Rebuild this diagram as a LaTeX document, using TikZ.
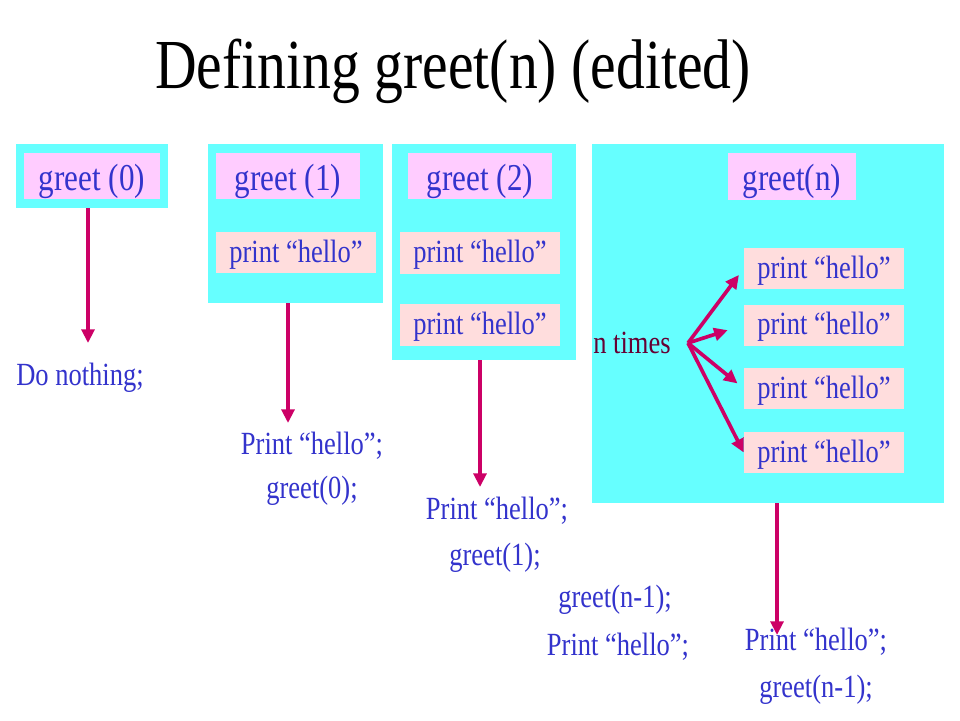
\documentclass[tikz,border=0pt]{standalone}
\usepackage{fontspec}
\setmainfont{Liberation Serif}[FakeStretch=0.82]
\usepackage{xcolor}
\usepackage{tikz}
\usetikzlibrary{arrows.meta, positioning, calc}

\definecolor{panelcyan}{HTML}{66FFFF}
\definecolor{headpink}{HTML}{FFCCFF}
\definecolor{printrose}{HTML}{FFDDDD}
\definecolor{textblue}{HTML}{3333CC}
\definecolor{timesred}{HTML}{660033}
\definecolor{arrowred}{HTML}{CC0066}

\begin{document}
\begin{tikzpicture}[
    % Node styles
    panel/.style={rectangle, fill=panelcyan, inner sep=0pt},
    headbox/.style={rectangle, fill=headpink, inner sep=0pt, minimum width=3.6cm, minimum height=1.15cm, text height=25.6pt, text depth=5.4pt, text=textblue, font=\fontsize{27}{30}\selectfont},
    printbox/.style={rectangle, fill=printrose, inner sep=0pt, minimum width=4cm, minimum height=1.025cm, text height=18.4pt, text depth=4.6pt, text=textblue, font=\fontsize{23}{26}\selectfont},
    result/.style={text=textblue, font=\fontsize{23}{26}\selectfont},
    arrow/.style={-{Triangle[length=3.4mm, width=3.2mm]}, line width=2.6pt, draw=arrowred}
]
\useasboundingbox (0,0) rectangle (24,-18);

% Title
\node[anchor=base, font=\fontsize{50}{56}\selectfont] (title) at (11.325, -2.2) {Defining greet(n) (edited)};

% greet (0)
\node[panel, minimum width=3.8cm, minimum height=1.6cm] (p0) at (2.3, -4.4) {};
\node[headbox, minimum width=3.4cm] (g0) at (2.3, -4.4) {greet (0)};
\coordinate (e0) at (2.2, -8.575);
\node[result] (r0) at (2.0, -9.45) {Do nothing;};
\draw[arrow] (p0.south -| e0) -- (e0);

% greet (1)
\node[panel, minimum width=4.375cm, minimum height=3.975cm] (p1) at (7.3875, -5.5875) {};
\node[headbox] (g1) at (7.2, -4.4) {greet (1)};
\node[printbox] (h1) at (7.4, -6.3125) {print “hello”};
\coordinate (e1) at (7.2, -10.575);
\node[result] (r1a) at (7.8, -11.15) {Print “hello”;};
\node[result] (r1b) at (7.8, -12.275) {greet(0);};
\draw[arrow] (p1.south -| e1) -- (e1);

% greet (2)
\node[panel, minimum width=4.6cm, minimum height=5.4cm] (p2) at (12.1, -6.3) {};
\node[headbox] (g2) at (12.0, -4.4) {greet (2)};
\node[printbox, minimum height=1.05cm] (h21) at (12.0, -6.325) {print “hello”};
\node[printbox, minimum height=1.05cm] (h22) at (12.0, -8.125) {print “hello”};
\coordinate (e2) at (12.0, -12.175);
\node[result] (r2a) at (12.425, -12.775) {Print “hello”;};
\node[result] (r2b) at (12.375, -13.95) {greet(1);};
\draw[arrow] (p2.south -| e2) -- (e2);

% greet(n)
\node[panel, minimum width=8.8cm, minimum height=8.975cm] (pn) at (19.2, -8.0875) {};
\node[headbox, minimum width=3.2cm, minimum height=1.175cm] (gn) at (19.8, -4.4125) {greet(n)};
\node[printbox] (hn1) at (20.6, -6.7125) {print “hello”};
\node[printbox] (hn2) at (20.6, -8.125) {print “hello”};
\node[printbox] (hn3) at (20.6, -9.7125) {print “hello”};
\node[printbox] (hn4) at (20.6, -11.3125) {print “hello”};
\node[text=timesred, font=\fontsize{23}{26}\selectfont] (ntimes) at (15.8, -8.575) {n times};
\coordinate (fan) at (17.2, -8.575);

% Fan of arrows
\draw[arrow, shorten >=2mm] (fan) -- (hn1.west);
\draw[arrow, shorten >=4.2mm] (fan) -- (hn2.west);
\draw[arrow, shorten >=2mm] (fan) -- (hn3.west);
\draw[arrow] (fan) -- (hn4.west);

\coordinate (en) at (19.425, -15.875);
\node[result] (rna) at (20.4, -16.05) {Print “hello”;};
\node[result] (rnb) at (20.4, -17.25) {greet(n-1);};
\draw[arrow] (pn.south -| en) -- (en);

% Edited order
\node[result] (rma) at (15.375, -15.0) {greet(n-1);};
\node[result] (rmb) at (15.45, -16.175) {Print “hello”;};

\end{tikzpicture}
\end{document}
